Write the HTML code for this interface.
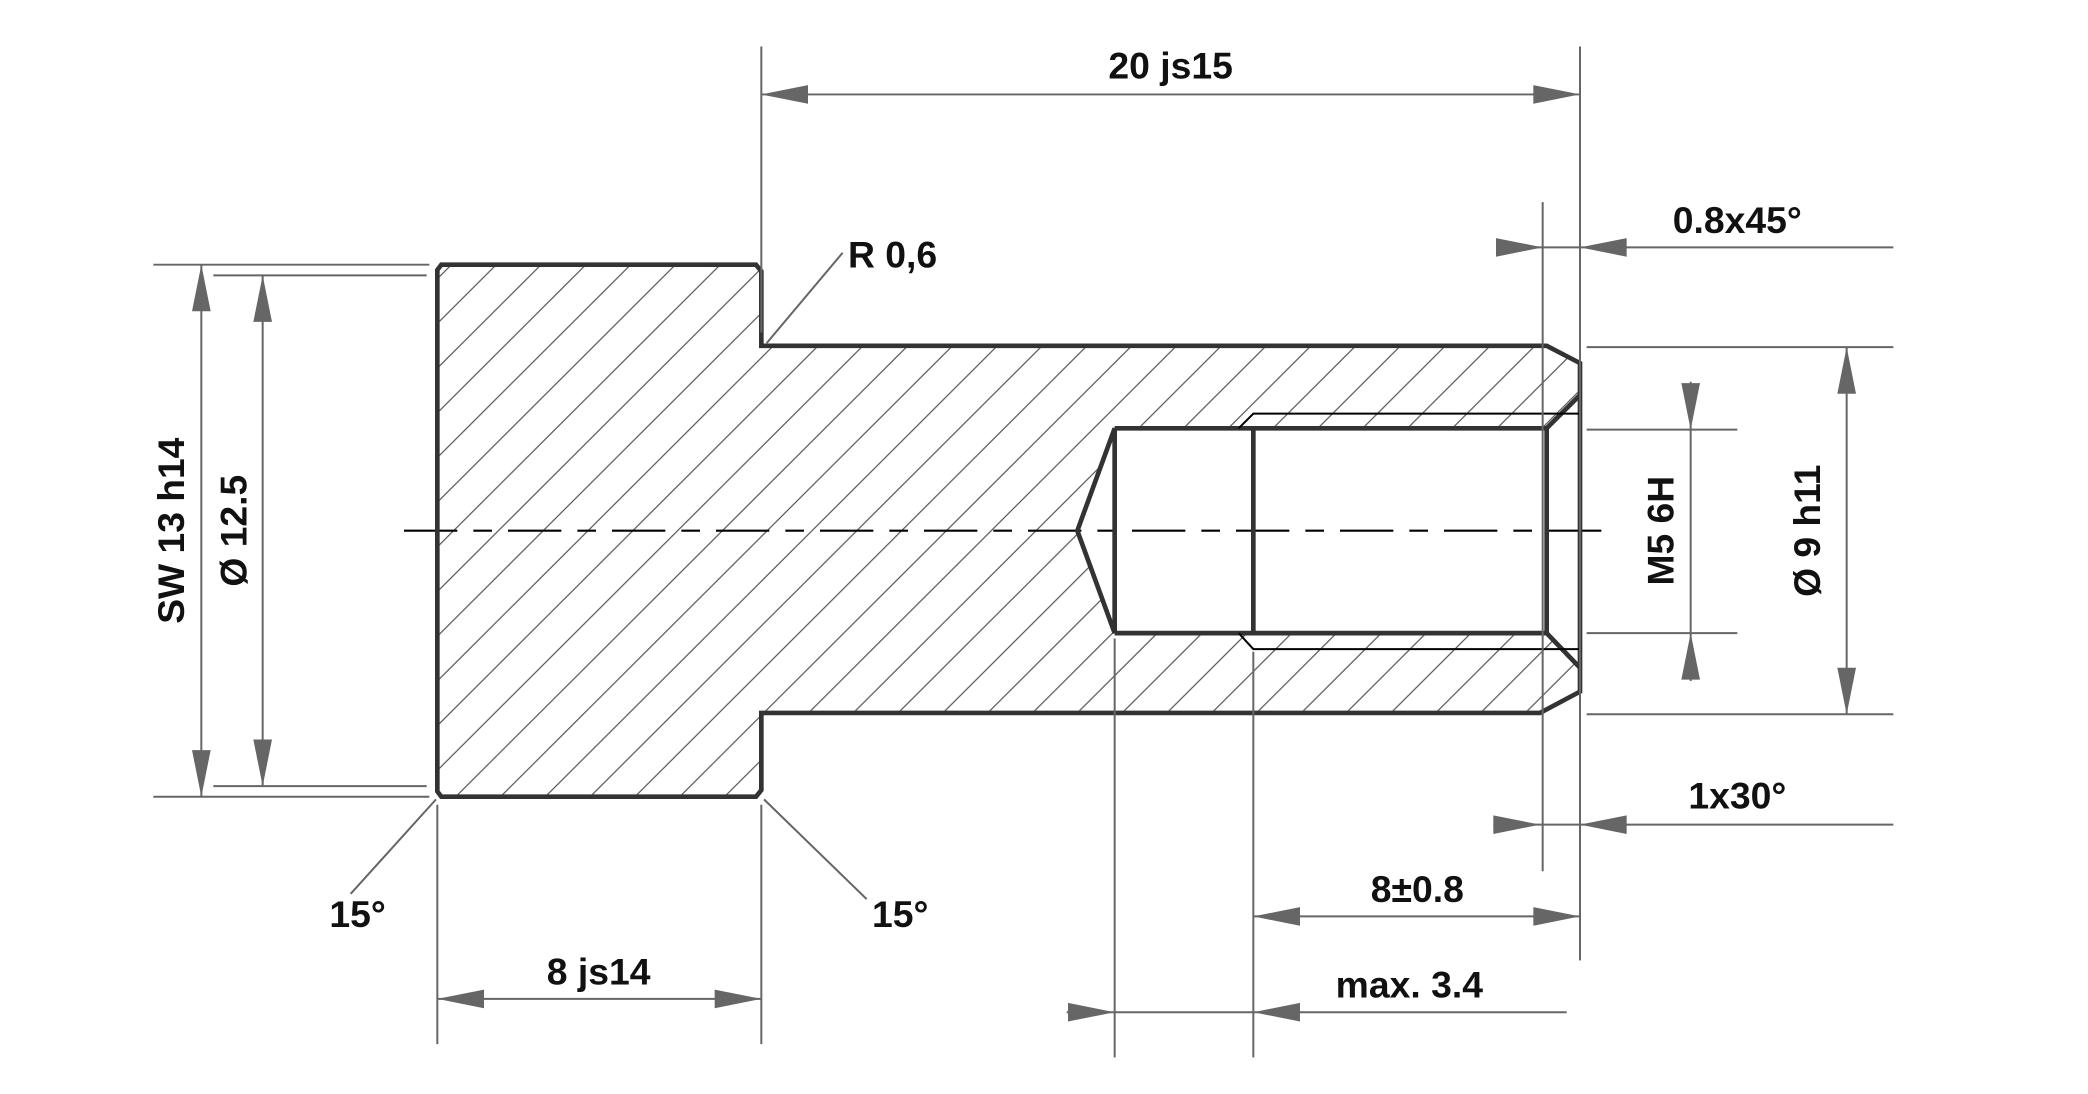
<!DOCTYPE html>
<html><head><meta charset="utf-8"><style>
html,body{margin:0;padding:0;background:#fff;}
svg{display:block;}
text{font-family:"Liberation Sans",Arial,sans-serif;font-weight:bold;font-size:28px;fill:#111;}
</style></head><body>
<svg width="2088" height="1094" viewBox="0 0 1566 822.5" preserveAspectRatio="none" xmlns="http://www.w3.org/2000/svg">
<defs>
<pattern id="h" patternUnits="userSpaceOnUse" width="33.6" height="33.6">
<path d="M-5,38.6 L38.6,-5 M-5,5 L5,-5 M28.6,38.6 L38.6,28.6" stroke="#555" stroke-width="0.9" fill="none"/>
</pattern>
</defs>
<path fill="url(#h)" fill-rule="evenodd" d="M331,199 L567,199 L571,204 L571,260 L1160,260 L1185,273 L1185,520 L1155,536 L571,536 L571,594 L567,599 L331,599 L328,595 L328,203 Z M808,399 L836,322 L1160,322 L1185,297 L1185,502 L1160,476 L836,476 Z"/>
<path d="M303,399 H1212" stroke="#000" stroke-width="1.6" stroke-dasharray="40,12,14,12" fill="none"/>
<g stroke="#333" stroke-width="3.5" fill="none" stroke-linejoin="miter">
<path d="M331,199 L567,199 L571,204 L571,260 L1160,260 L1185,273 L1185,520 L1155,536 L571,536 L571,594 L567,599 L331,599 L328,595 L328,203 Z"/>
<path d="M836,322 L808,399 L836,476 Z"/>
<path d="M836,322 H1160 V476 H836"/>
<path d="M940,322 V476"/>
<path d="M1160,322 L1185,297 M1160,476 L1185,502"/>
</g>
<g stroke="#000" stroke-width="1.5" fill="none">
<path d="M929,322 L940,311 H1185 M929,476 L940,488 H1185"/>
</g>
<g stroke="#666" stroke-width="1.5" fill="none">
<path d="M571,35 V250 M1185,35 V722 M571,71 H1185"/>
<path d="M1157,152 V655 M1125,186 H1420"/>
<path d="M1190,261 H1420 M1190,537 H1420 M1385,261 V537"/>
<path d="M1190,323 H1303 M1190,476 H1303 M1268,287 V512"/>
<path d="M1120,620 H1420"/>
<path d="M940,490 V795 M940,689 H1185"/>
<path d="M836,480 V795 M800,761 H1175"/>
<path d="M328,605 V785 M571,605 V785 M328,751 H571"/>
<path d="M115,199 H322 M115,599 H322 M151,199 V599"/>
<path d="M160,207 H320 M160,591 H320 M197,207 V591"/>
<path d="M575,258 L632,190"/>
<path d="M327,601 L263,672 M573,601 L650,676"/>
</g>
<g fill="#666">
<path d="M571,71 l35,-7 v14 Z M1185,71 l-35,-7 v14 Z"/>
<path d="M1157,186 l-35,-7 v14 Z M1185,186 l35,-7 v14 Z"/>
<path d="M1385,261 l-7,35 h14 Z M1385,537 l-7,-35 h14 Z"/>
<path d="M1268,323 l-7,-35 h14 Z M1268,476 l-7,35 h14 Z"/>
<path d="M1155,620 l-35,-7 v14 Z M1185,620 l35,-7 v14 Z"/>
<path d="M940,689 l35,-7 v14 Z M1185,689 l-35,-7 v14 Z"/>
<path d="M836,761 l-35,-7 v14 Z M940,761 l35,-7 v14 Z"/>
<path d="M328,751 l35,-7 v14 Z M571,751 l-35,-7 v14 Z"/>
<path d="M151,199 l-7,35 h14 Z M151,599 l-7,-35 h14 Z"/>
<path d="M197,207 l-7,35 h14 Z M197,591 l-7,-35 h14 Z"/>
</g>
<text x="878" y="59" text-anchor="middle">20 js15</text>
<text x="1303" y="175" text-anchor="middle">0.8x45°</text>
<text x="1303" y="608" text-anchor="middle">1x30°</text>
<text x="1063" y="678" text-anchor="middle">8±0.8</text>
<text x="1057" y="750" text-anchor="middle">max. 3.4</text>
<text x="449" y="740" text-anchor="middle">8 js14</text>
<text x="636" y="201">R 0,6</text>
<text x="247" y="697">15°</text>
<text x="654" y="697">15°</text>
<text transform="translate(1245,399) rotate(-90)" x="0" y="10" text-anchor="middle">M5 6H</text>
<text transform="translate(1355,399) rotate(-90)" x="0" y="10" text-anchor="middle">Ø 9 h11</text>
<text transform="translate(128,399) rotate(-90)" x="0" y="10" text-anchor="middle">SW 13 h14</text>
<text transform="translate(175,399) rotate(-90)" x="0" y="10" text-anchor="middle">Ø 12.5</text>
</svg>
</body></html>
